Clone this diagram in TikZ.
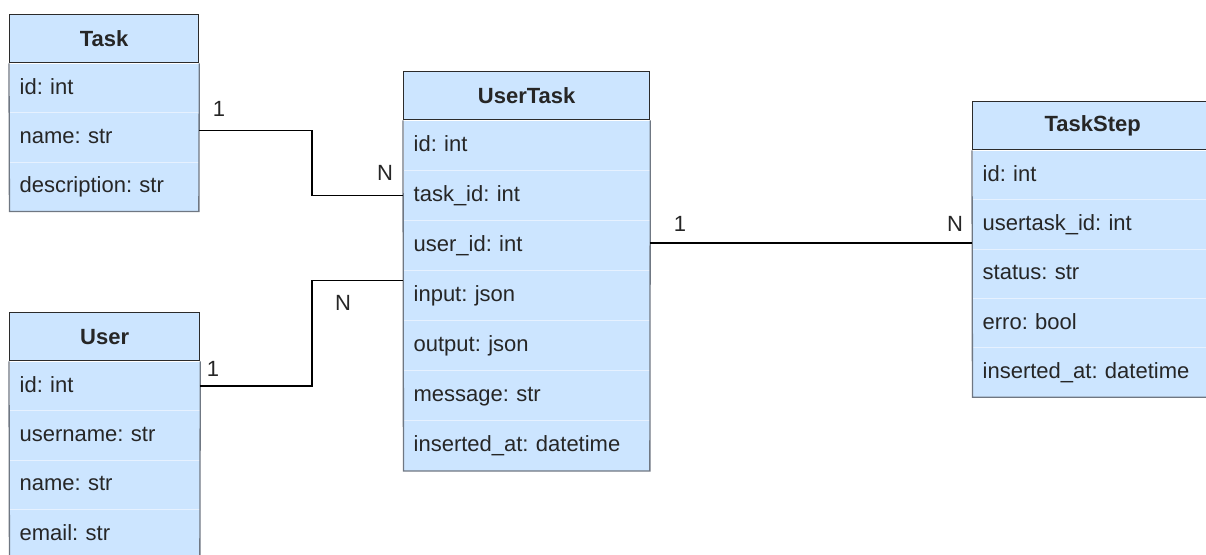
\documentclass[tikz,border=0pt]{standalone}
\usepackage{fontspec}
\setmainfont{Liberation Sans}
\frenchspacing
\usetikzlibrary{positioning}
\definecolor{cellblue}{HTML}{CCE5FF}
\definecolor{boxline}{HTML}{2B2B2B}
\definecolor{bodyline}{HTML}{6F7782}
\definecolor{sepline}{HTML}{E6F1FF}
\definecolor{inkgray}{HTML}{262626}

\begin{document}
\begin{tikzpicture}[x=1pt, y=-1pt,
		head/.style={draw=boxline, fill=cellblue, line width=1.3pt, anchor=north west,
			minimum height=48pt, inner sep=0pt, text=inkgray,
			font=\fontsize{22}{26}\selectfont\bfseries},
		field/.style={fill=cellblue, minimum height=49pt, inner xsep=10pt, inner ysep=0pt,
			text height=16pt, text depth=4pt, align=left, text=inkgray,
			font=\fontsize{22}{26}\selectfont},
		body/.style={draw=bodyline, line width=1.3pt},
		sep/.style={draw=sepline, line width=1pt},
		link/.style={draw=black, line width=1.3pt},
		card/.style={inner sep=0pt, text=inkgray, font=\fontsize{22}{26}\selectfont}
	]
	\useasboundingbox (0,0) rectangle (1206,554);
	\clip (0,0) rectangle (1206,554);

	% Task
	\node[head, minimum width=189pt] (task-0) at (9,14) {Task};
	\foreach \txt [count=\i, remember=\i as \j (initially 0)] in {id: int, name: str, description: str}
		\node[field, text width=169pt, below=0pt of task-\j] (task-\i) {\txt};
	\foreach \i in {1,2}
		\draw[sep] (task-\i.south west) -- (task-\i.south east);
	\draw[body] (task-0.south west) -- (task-3.south west) -- (task-3.south east) -- (task-0.south east);

	% User
	\node[head, minimum width=190pt] (user-0) at (9,312) {User};
	\foreach \txt [count=\i, remember=\i as \j (initially 0)] in {id: int, username: str, name: str, email: str}
		\node[field, text width=170pt, below=0pt of user-\j] (user-\i) {\txt};
	\foreach \i in {1,2,3}
		\draw[sep] (user-\i.south west) -- (user-\i.south east);
	\draw[body] (user-0.south west) -- (user-4.south west) -- (user-4.south east) -- (user-0.south east);

	% UserTask
	\node[head, minimum width=246pt] (ut-0) at (403,71) {UserTask};
	\foreach \txt [count=\i, remember=\i as \j (initially 0)] in {id: int, task\_id: int, user\_id: int, input: json, output: json, message: str, inserted\_at: datetime}
		\node[field, minimum height=49.7pt, text width=226pt, below=0pt of ut-\j] (ut-\i) {\txt};
	\foreach \i in {1,...,6}
		\draw[sep] (ut-\i.south west) -- (ut-\i.south east);
	\draw[body] (ut-0.south west) -- (ut-7.south west) -- (ut-7.south east) -- (ut-0.south east);

	% TaskStep
	\node[head, minimum width=240pt] (ts-0) at (972,101) {TaskStep};
	\foreach \txt [count=\i, remember=\i as \j (initially 0)] in {id: int, usertask\_id: int, status: str, erro: bool, inserted\_at: datetime}
		\node[field, text width=220pt, below=0pt of ts-\j] (ts-\i) {\txt};
	\foreach \i in {1,...,4}
		\draw[sep] (ts-\i.south west) -- (ts-\i.south east);
	\draw[body] (ts-0.south west) -- (ts-5.south west) -- (ts-5.south east) -- (ts-0.south east);

	% relations
	\draw[link] ([yshift=7pt]task-2.east) -- ++(113,0) |- (ut-2.west);
	\draw[link] (user-1.east) -- ++(112,0) |- ([yshift=15pt]ut-4.west);
	\draw[link] ([yshift=2.5pt]ut-3.east) -- ([yshift=2.5pt]ut-3.east -| ts-2.west);

	% cardinalities
	\node[card] (c-task) at (219,109) {1};
	\node[card] (c-ut1) at (385,173) {N};
	\node[card] (c-user) at (213,369) {1};
	\node[card] (c-ut2) at (343,303) {N};
	\node[card] (c-ut3) at (680,224) {1};
	\node[card] (c-ts) at (955,224) {N};
\end{tikzpicture}
\end{document}
